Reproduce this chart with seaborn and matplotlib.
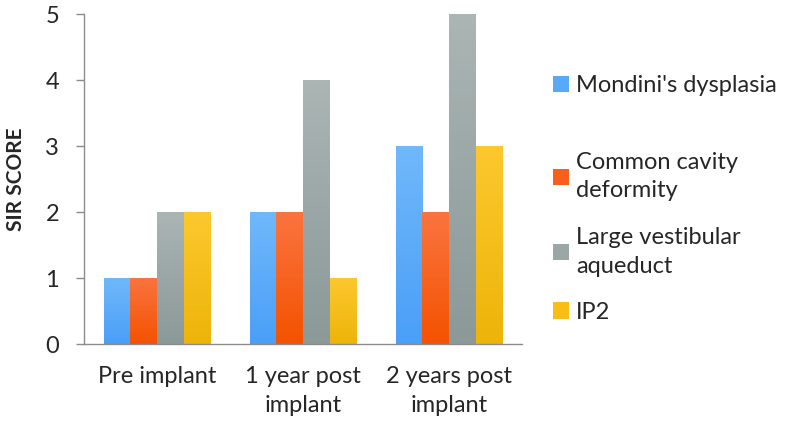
import numpy as np
import pandas as pd
import seaborn as sns
import matplotlib.pyplot as plt
from matplotlib.colors import LinearSegmentedColormap

# data
stages = ["Pre implant", "1 year post\nimplant", "2 years post\nimplant"]
groups = ["Mondini's dysplasia", "Common cavity\ndeformity", "Large vestibular\naqueduct", "IP2"]
mondini = [1, 2, 3]
common_cavity = [1, 2, 2]
large_va = [2, 4, 5]
ip2 = [2, 1, 3]

colors = ["#5aa9f8", "#f95f1c", "#9ba7a6", "#f8be14"]
tops = ["#70b8fb", "#fa7440", "#aab5b4", "#fcc82e"]
bottoms = ["#4a9ff7", "#f45200", "#8b9998", "#edb409"]

rows = []
for g, vals in zip(groups, [mondini, common_cavity, large_va, ip2]):
    for s, v in zip(stages, vals):
        rows.append({"stage": s, "group": g, "score": v})
df = pd.DataFrame(rows)

sns.set_style("white")
plt.rcParams['font.family'] = ['Lato', 'DejaVu Sans']

fig = plt.figure(figsize=(7.86, 4.25), dpi=100)
ax = fig.add_axes([0.107, 0.19, 0.557, 0.777])

sns.barplot(data=df, x="stage", y="score", hue="group", palette=colors, saturation=1,
            width=0.73, gap=0, ax=ax, edgecolor="none", linewidth=0)

# vertical gradient on each bar, like the Excel style
for i, cont in enumerate(ax.containers):
    cmap = LinearSegmentedColormap.from_list("g%d" % i, [bottoms[i], tops[i]])
    for bar in cont:
        x0, y0 = bar.get_x(), bar.get_y()
        w, h = bar.get_width(), bar.get_height()
        im = ax.imshow(np.linspace(0, 1, 64).reshape(-1, 1), cmap=cmap, aspect="auto",
                       origin="lower", extent=[x0, x0 + w, y0, y0 + h], zorder=bar.get_zorder())
        im.set_clip_path(bar)

ax.set_xlim(-0.5, 2.5)
ax.set_ylim(0, 5)
ax.set_yticks(range(6))
ax.set_xlabel("")
ax.set_ylabel("SIR SCORE", fontsize=15, fontweight="bold", labelpad=14)

sns.despine(ax=ax)
for sp in ["left", "bottom"]:
    ax.spines[sp].set_color("#8c8c8c")
    ax.spines[sp].set_linewidth(1.0)
ax.tick_params(axis="y", length=6, color="#8c8c8c", width=1.0, labelsize=17, pad=12, left=True)
ax.tick_params(axis="x", length=0, labelsize=17, pad=16)
for t in ax.get_xticklabels():
    t.set_linespacing(1.45)

# legend in two parts so the first entry sits apart, as in the reference
handles, labels = ax.get_legend_handles_labels()
ax.get_legend().remove()
leg_kw = dict(bbox_transform=fig.transFigure, frameon=False, fontsize=17,
              handlelength=0.7, handleheight=0.7, handletextpad=0.3, labelspacing=1.08)
leg1 = fig.legend(handles[:1], labels[:1], loc="center left", bbox_to_anchor=(0.676, 0.798), **leg_kw)
leg2 = fig.legend(handles[1:], labels[1:], loc="center left", bbox_to_anchor=(0.676, 0.4415), **leg_kw)
for leg in (leg1, leg2):
    for t in leg.get_texts():
        t.set_linespacing(1.45)

fig.savefig("out.png", dpi=100)
